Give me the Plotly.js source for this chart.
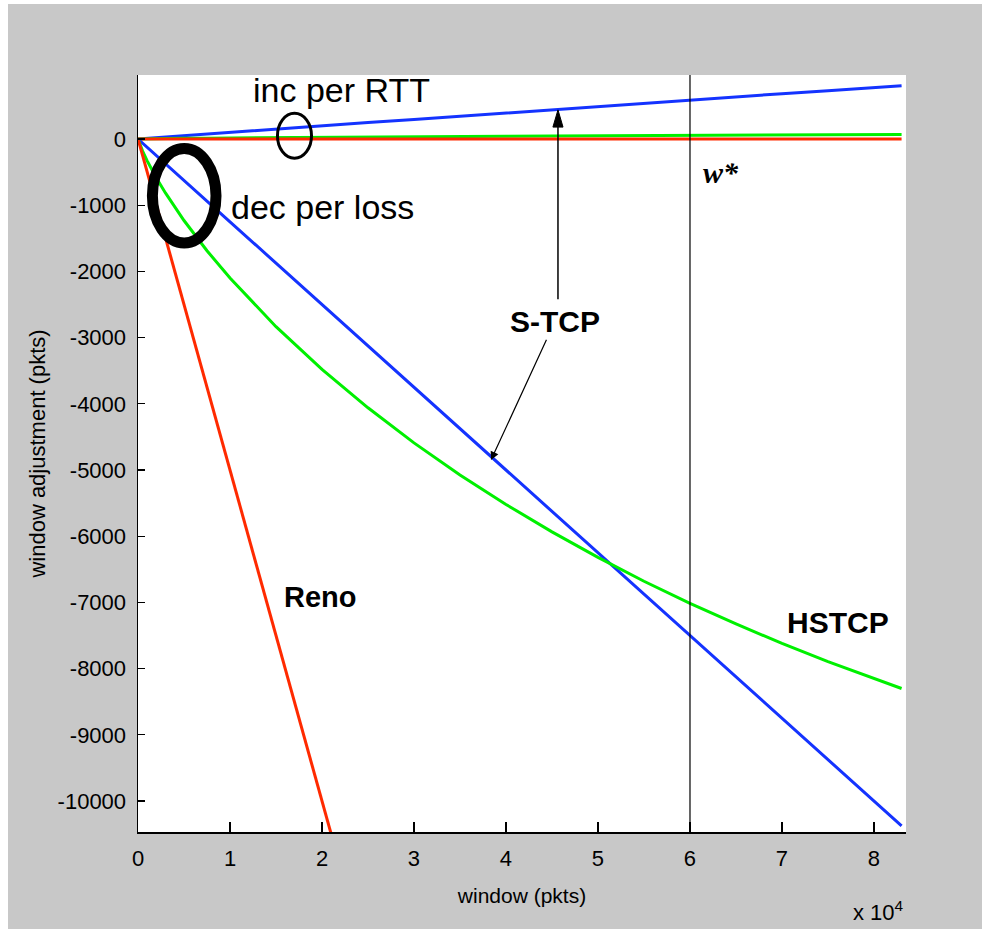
<!DOCTYPE html>
<html>
<head>
<meta charset="utf-8">
<script src="https://cdn.plot.ly/plotly-3.0.1.min.js"></script>
<style>
  html, body { margin: 0; padding: 0; background: #ffffff; }
  #chart { position: absolute; left: 8px; top: 4px; width: 974px; height: 925px; }
</style>
</head>
<body>
<div id="chart"></div>
<script>
// window size (pkts)
const windowPkts = [0, 500, 1000, 2000, 3000, 5000, 7500, 10000, 15000, 20000, 25000, 30000, 35000, 40000, 45000, 50000, 55000, 60000, 65000, 70000, 75000, 80000, 83000];

// increase per RTT (pkts)
const incSTCP  = [0, 5, 10, 20, 30, 50, 75, 100, 150, 200, 250, 295, 345, 390, 440, 490, 540, 590, 635, 685, 730, 780, 805];
const incHSTCP = [0, 2, 3, 5, 7, 10, 13, 16, 21, 26, 30, 34, 38, 42, 46, 49, 52, 56, 59, 62, 65, 68, 70];
const incReno  = [1, 1, 1, 1, 1, 1, 1, 1, 1, 1, 1, 1, 1, 1, 1, 1, 1, 1, 1, 1, 1, 1, 1];

// decrease per loss (pkts)
const decSTCP  = [0, -62, -125, -250, -375, -625, -940, -1250, -1875, -2500, -3125, -3750, -4375, -5000, -5625, -6250, -6875, -7500, -8125, -8750, -9375, -10000, -10375];
const decHSTCP = [0, -183, -330, -588, -818, -1231, -1688, -2100, -2835, -3480, -4060, -4590, -5075, -5520, -5935, -6320, -6680, -7015, -7325, -7620, -7895, -8155, -8300];
const decRenoWin = [0, 500, 1000, 2000, 3000, 5000, 7500, 10000, 15000, 20000, 22000];
const decReno    = [0, -250, -500, -1000, -1500, -2500, -3750, -5000, -7500, -10000, -11000];

const wStar = 60000;

const xTickVals = [0, 10000, 20000, 30000, 40000, 50000, 60000, 70000, 80000];
const xTickText = ['0', '1', '2', '3', '4', '5', '6', '7', '8'];
const yTickVals = [0, -1000, -2000, -3000, -4000, -5000, -6000, -7000, -8000, -9000, -10000];
const yTickText = ['0', '-1000', '-2000', '-3000', '-4000', '-5000', '-6000', '-7000', '-8000', '-9000', '-10000'];

const BLUE = '#1433ff', GREEN = '#00f000', RED = '#ff2a00';
const FONT = '"Liberation Sans", Arial, sans-serif';

const lw = 3;
const traces = [
  {x: windowPkts, y: incSTCP, name: 'S-TCP inc', mode: 'lines', line: {color: BLUE, width: lw}},
  {x: windowPkts, y: incHSTCP, name: 'HSTCP inc', mode: 'lines', line: {color: GREEN, width: lw}},
  {x: windowPkts, y: incReno, name: 'Reno inc', mode: 'lines', line: {color: RED, width: lw}},
  {x: windowPkts, y: decSTCP, name: 'S-TCP dec', mode: 'lines', line: {color: BLUE, width: lw}},
  {x: windowPkts, y: decHSTCP, name: 'HSTCP dec', mode: 'lines', line: {color: GREEN, width: lw}},
  {x: decRenoWin, y: decReno, name: 'Reno dec', mode: 'lines', line: {color: RED, width: lw}}
];

const layout = {
  width: 974, height: 925,
  paper_bgcolor: '#c8c8c8',
  plot_bgcolor: '#ffffff',
  showlegend: false,
  margin: {l: 130, r: 76, t: 71, b: 97, pad: 0},
  xaxis: {
    range: [0, 83480], showgrid: false, zeroline: false,
    showline: true, linecolor: '#000', linewidth: 1.5,
    ticks: 'inside', ticklen: 10, tickwidth: 1.2, tickcolor: '#000',
    tickvals: xTickVals, ticktext: xTickText,
    tickfont: {family: FONT, size: 22, color: '#000'},
    ticklabelstandoff: 6,
    title: {text: 'window (pkts)', font: {family: FONT, size: 21, color: '#000'}, standoff: 18}
  },
  yaxis: {
    range: [-10468, 967], showgrid: false, zeroline: false,
    showline: true, linecolor: '#000', linewidth: 1.5,
    ticks: 'inside', ticklen: 7, tickwidth: 1.2, tickcolor: '#000',
    tickvals: yTickVals, ticktext: yTickText,
    tickfont: {family: FONT, size: 22, color: '#000'},
    ticklabelstandoff: 6,
    title: {text: 'window adjustment (pkts)', font: {family: FONT, size: 22, color: '#000'}, standoff: 6}
  },
  shapes: [
    {type: 'line', xref: 'x', yref: 'paper', x0: wStar, x1: wStar, y0: 0, y1: 1, line: {color: '#000', width: 1.2}},
    {type: 'circle', xref: 'x', yref: 'y', x0: 15160, x1: 18860, y0: -290, y1: 390, line: {color: '#000', width: 3}},
    {type: 'circle', xref: 'x', yref: 'y', x0: 1565, x1: 8480, y0: -1571, y1: -144, line: {color: '#000', width: 11}},
    // upward arrow from the S-TCP label to the increase curve
    {type: 'line', xref: 'x', yref: 'y', x0: 45650, x1: 45650, y0: -2420, y1: 250, line: {color: '#000', width: 1.5}},
    {type: 'path', xref: 'x', yref: 'y', path: 'M 45650 440 L 45100 180 L 46200 180 Z', fillcolor: '#000', line: {color: '#000', width: 1}}
  ],
  annotations: [
    {x: 22100, y: 740, xref: 'x', yref: 'y', text: 'inc per RTT', showarrow: false, font: {family: FONT, size: 34, color: '#000'}},
    {x: 20100, y: -1030, xref: 'x', yref: 'y', text: 'dec per loss', showarrow: false, font: {family: FONT, size: 34, color: '#000'}},
    {x: 38370, y: -4850, ax: 45300, ay: -2760, xref: 'x', yref: 'y', axref: 'x', ayref: 'y', text: '<b>S-TCP</b>', showarrow: true, arrowhead: 2, arrowsize: 1.4, arrowwidth: 1.2, arrowcolor: '#000', font: {family: FONT, size: 30, color: '#000'}},
    {x: 19800, y: -6920, xref: 'x', yref: 'y', text: '<b>Reno</b>', showarrow: false, font: {family: FONT, size: 29, color: '#000'}},
    {x: 76100, y: -7310, xref: 'x', yref: 'y', text: '<b>HSTCP</b>', showarrow: false, font: {family: FONT, size: 30, color: '#000'}},
    {x: 63370, y: -500, xref: 'x', yref: 'y', text: '<b><i>w*</i></b>', showarrow: false, font: {family: '"Liberation Serif", "Times New Roman", serif', size: 30, color: '#000'}},
    {x: 1, y: -0.104, xref: 'paper', yref: 'paper', xanchor: 'right', yanchor: 'middle', text: 'x 10<sup>4</sup>', showarrow: false, font: {family: FONT, size: 22, color: '#000'}}
  ]
};

Plotly.newPlot('chart', traces, layout, {displayModeBar: false, staticPlot: true});
</script>
</body>
</html>
